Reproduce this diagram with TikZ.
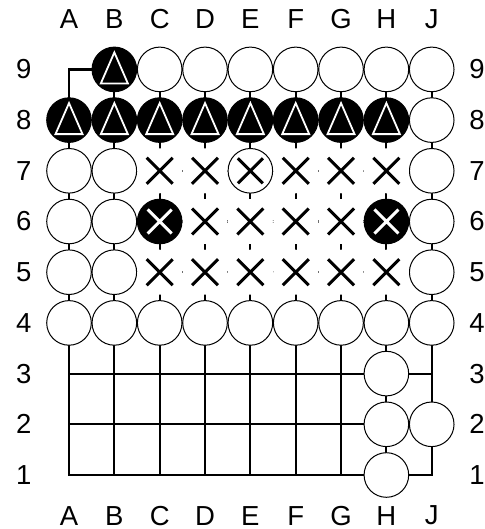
\documentclass[tikz,border=0pt]{standalone}
\usepackage{fontspec}
\setmainfont{Liberation Sans}
\begin{document}
\begin{tikzpicture}[
			x=45.34pt, y=50.7pt,
			every node/.style = {font=\fontsize{27.5}{32}\selectfont},
			lbl/.style        = {inner sep=0pt},
			boardline/.style  = {line width=2.2pt},
			stone/.style      = {circle, draw, line width=1pt, minimum size=44.6pt, inner sep=0pt},
			wst/.style        = {stone, fill=white},
			bst/.style        = {stone, fill=black},
			bsttri/.style     = {bst, path picture={
					\draw[white, line width=1.8pt, line join=miter] (path picture bounding box.center)
					++(0pt,17pt) -- ++(-13.5pt,-31pt) -- ++(27pt,0pt) -- cycle;}},
			bstx/.style       = {bst, path picture={
					\draw[white, line width=3pt] (path picture bounding box.center) ++(-12pt,-12pt) -- ++(24pt,24pt)
					(path picture bounding box.center) ++(-12pt,12pt) -- ++(24pt,-24pt);}},
			wstx/.style       = {wst, path picture={
					\draw[line width=3pt] (path picture bounding box.center) ++(-12.5pt,-12.5pt) -- ++(25pt,25pt)
					(path picture bounding box.center) ++(-12.5pt,12.5pt) -- ++(25pt,-25pt);}},
			xpt/.style        = {circle, fill=white, minimum size=45pt, inner sep=0pt, path picture={
					\draw[line width=3pt] (path picture bounding box.center) ++(-13pt,-13pt) -- ++(26pt,26pt)
					(path picture bounding box.center) ++(-13pt,13pt) -- ++(26pt,-26pt);}}
			]
			\useasboundingbox (-0.522,-0.065) rectangle (10.175,10.369);
			
			%--- board lines ---
			\draw[boardline] (1,1) rectangle (9,9);
			\foreach \i in {2,...,8} {
				\draw[boardline] (\i,1) -- (\i,9);
				\draw[boardline] (1,\i) -- (9,\i);
			}
			
			%--- coordinates ---
			\foreach \c [count=\i] in {A,B,C,D,E,F,G,H,J} {
				\node[lbl] (top\c) at (\i,9.99) {\c};
				\node[lbl] (bot\c) at (\i,0.2) {\c};
			}
			\foreach \r in {1,...,9} {
				\node[lbl] (left\r) at (0,\r) {\r};
				\node[lbl] (right\r) at (10,\r) {\r};
			}
			
			%--- black stones ---
			\node[bsttri] (B9) at (2,9) {};
			\foreach \c/\i in {A/1,B/2,C/3,D/4,E/5,F/6,G/7,H/8}
				\node[bsttri] (\c8) at (\i,8) {};
			\node[bstx] (C6) at (3,6) {};
			\node[bstx] (H6) at (8,6) {};
			
			%--- white stones ---
			\foreach \c/\i in {C/3,D/4,E/5,F/6,G/7,H/8,J/9}
				\node[wst] (\c9) at (\i,9) {};
			\node[wst] (J8) at (9,8) {};
			\foreach \r in {5,6,7} {
				\node[wst] (A\r) at (1,\r) {};
				\node[wst] (B\r) at (2,\r) {};
				\node[wst] (J\r) at (9,\r) {};
			}
			\foreach \c/\i in {A/1,B/2,C/3,D/4,E/5,F/6,G/7,H/8,J/9}
				\node[wst] (\c4) at (\i,4) {};
			\node[wst] (H3) at (8,3) {};
			\node[wst] (H2) at (8,2) {};
			\node[wst] (J2) at (9,2) {};
			\node[wst] (H1) at (8,1) {};
			\node[wstx] (E7) at (5,7) {};
			
			%--- crosses ---
			\foreach \c/\i in {C/3,D/4,F/6,G/7,H/8}
				\node[xpt] (\c7) at (\i,7) {};
			\foreach \c/\i in {D/4,E/5,F/6,G/7}
				\node[xpt] (\c6) at (\i,6) {};
			\foreach \c/\i in {C/3,D/4,E/5,F/6,G/7,H/8}
				\node[xpt] (\c5) at (\i,5) {};
		\end{tikzpicture}
\end{document}
